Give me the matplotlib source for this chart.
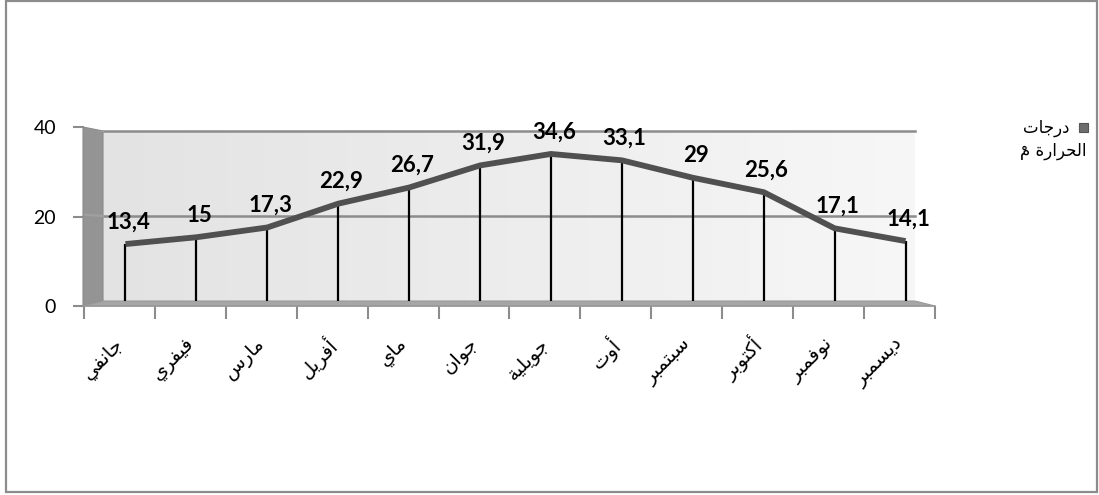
import numpy as np
import matplotlib
matplotlib.use("Agg")
import matplotlib.pyplot as plt
import matplotlib.transforms as mtransforms
from matplotlib.patches import Rectangle, Polygon

# بيانات درجات الحرارة الشهرية
months = ["جانفي", "فيفري", "مارس", "أفريل", "ماي", "جوان",
          "جويلية", "أوت", "سبتمبر", "أكتوبر", "نوفمبر", "ديسمبر"]
temps = [13.4, 15, 17.3, 22.9, 26.7, 31.9, 34.6, 33.1, 29, 25.6, 17.1, 14.1]
y_ticks = [0, 20, 40]
series_name = "درجات الحرارة مْ"

# matplotlib لا يقوم بوصل الحروف العربية، لذلك نستعمل أشكال العرض
# (isolated, final, initial, medial)
FORMS = {
    "\u0627": ("\uFE8D", "\uFE8E", None, None),
    "\u0623": ("\uFE83", "\uFE84", None, None),
    "\u0628": ("\uFE8F", "\uFE90", "\uFE91", "\uFE92"),
    "\u0629": ("\uFE93", "\uFE94", None, None),
    "\u062A": ("\uFE95", "\uFE96", "\uFE97", "\uFE98"),
    "\u062C": ("\uFE9D", "\uFE9E", "\uFE9F", "\uFEA0"),
    "\u062D": ("\uFEA1", "\uFEA2", "\uFEA3", "\uFEA4"),
    "\u062F": ("\uFEA9", "\uFEAA", None, None),
    "\u0631": ("\uFEAD", "\uFEAE", None, None),
    "\u0633": ("\uFEB1", "\uFEB2", "\uFEB3", "\uFEB4"),
    "\u0641": ("\uFED1", "\uFED2", "\uFED3", "\uFED4"),
    "\u0643": ("\uFED9", "\uFEDA", "\uFEDB", "\uFEDC"),
    "\u0644": ("\uFEDD", "\uFEDE", "\uFEDF", "\uFEE0"),
    "\u0645": ("\uFEE1", "\uFEE2", "\uFEE3", "\uFEE4"),
    "\u0646": ("\uFEE5", "\uFEE6", "\uFEE7", "\uFEE8"),
    "\u0648": ("\uFEED", "\uFEEE", None, None),
    "\u064A": ("\uFEF1", "\uFEF2", "\uFEF3", "\uFEF4"),
}
# الحركات وأشكالها المنفصلة
MARKS = {"\u0652": "\uFE7E", "\u064E": "\uFE76", "\u064F": "\uFE78",
         "\u0650": "\uFE7A", "\u0651": "\uFE7C"}


def shape(text):
    """Return (visual string without marks, list of (visual index, mark))."""
    base = [c for c in text if c not in MARKS]
    marks = []
    n = 0
    for c in text:
        if c in MARKS:
            marks.append((n - 1, MARKS[c]))
        else:
            n += 1
    out = list(base)
    for i, c in enumerate(base):
        if c not in FORMS:
            continue
        iso, fin, ini, med = FORMS[c]
        prev_c = base[i - 1] if i > 0 else None
        next_c = base[i + 1] if i + 1 < len(base) else None
        join_prev = prev_c in FORMS and FORMS[prev_c][2] is not None
        join_next = next_c in FORMS and ini is not None
        if join_prev and join_next:
            out[i] = med
        elif join_prev:
            out[i] = fin
        elif join_next:
            out[i] = ini
        else:
            out[i] = iso
    vis = "".join(reversed(out))
    vis_marks = [(len(out) - 1 - i, m) for i, m in marks]
    return vis, vis_marks


def arabic_text(x, y, text, **kw):
    """Draw shaped arabic text (baseline at y) and put marks over their letters."""
    vis, marks = shape(text)
    t = fig.text(x, y, vis, va="baseline", **kw)
    if marks:
        fig.canvas.draw()
        r = fig.canvas.get_renderer()
        bb = t.get_window_extent(r)
        for idx, m in marks:
            pre = fig.text(0, 0, vis[:idx], **kw)
            upto = fig.text(0, 0, vis[:idx + 1], **kw)
            w0 = pre.get_window_extent(r).width if idx > 0 else 0
            w1 = upto.get_window_extent(r).width
            pre.remove()
            upto.remove()
            cx = bb.x0 + (w0 + w1) / 2
            fig.text(cx / W, y - 0.008, m, ha="center", va="baseline", **{
                k: v for k, v in kw.items() if k != "ha"})
    return t


plt.rcParams["font.family"] = ["Lato", "DejaVu Sans"]
arabic_font = ["DejaVu Sans"]

W, H = 1099, 495
fig = plt.figure(figsize=(W / 100, H / 100), dpi=100)


def fx(px):
    return px / W


def fy(py):
    return 1 - py / H


# الإطار الخارجي
fig.patches.append(Rectangle((fx(6), fy(492)), fx(1097) - fx(6), fy(1) - fy(492),
                             transform=fig.transFigure, fill=False,
                             edgecolor="#8c8c8c", linewidth=1.6))

left, right = 84, 935
# المحور الأمامي (تدريجات 0-20-40)
ax_f = fig.add_axes([fx(left), fy(306), fx(right) - fx(left), fy(127) - fy(306)])
# محور الجدار الخلفي حيث ترسم السلسلة
ax = fig.add_axes([fx(left), fy(301), fx(right) - fx(left), fy(131) - fy(301)])
ax.set_zorder(ax_f.get_zorder() + 1)
ax.patch.set_visible(False)

x = np.arange(len(months))
for a in (ax, ax_f):
    a.set_xlim(-0.5, len(months) - 0.5)
    a.set_ylim(0, 40)

# الجدار الخلفي والجدار الجانبي والأرضية
aw = ax_f.get_position().width * W
ah = ax_f.get_position().height * H


def ap(px, py):
    return ((px - left) / aw, (306 - py) / ah)


grad = np.linspace(0, 1, 256).reshape(1, -1)
ax_f.imshow(grad, cmap=matplotlib.colors.LinearSegmentedColormap.from_list(
    "wall", ["#e3e3e3", "#f7f7f7"]), aspect="auto",
    extent=[ap(103, 0)[0], ap(915, 0)[0], ap(0, 301)[1], ap(0, 131)[1]],
    transform=ax_f.transAxes, zorder=0)
ax_f.add_patch(Polygon([ap(83, 306), ap(103, 301), ap(103, 131), ap(83, 127)],
                       closed=True, transform=ax_f.transAxes, facecolor="#949494",
                       edgecolor="#8a8a8a", linewidth=0.8, clip_on=False, zorder=1))
ax_f.add_patch(Polygon([ap(83, 306), ap(935, 306), ap(915, 301), ap(103, 301)],
                       closed=True, transform=ax_f.transAxes, facecolor="#a6a6a6",
                       edgecolor="#9a9a9a", linewidth=0.8, clip_on=False, zorder=1))

# خطوط الشبكة على الجدار
for v in y_ticks[1:]:
    ax.plot([-0.5 + 19 / 70.9, 11.5 - 20 / 70.9], [v, v], color="#8c8c8c",
            linewidth=1.8, zorder=1, clip_on=False)
    yv = ax.transData.transform((0, v))[1]
    ax.plot([fx(75), fx(103)], [yv / H + 0.008 * (v / 40), yv / H],
            transform=fig.transFigure, color="#a0a0a0", linewidth=1.6, zorder=1)

# تدريجات المحور الأمامي
ax_f.set_yticks(y_ticks)
ax_f.set_yticklabels([str(v) for v in y_ticks], fontsize=14, color="#000000")
ax_f.tick_params(axis="y", length=8, width=1.5, color="#8c8c8c", pad=12)
ax_f.set_xticks(np.arange(-0.5, len(months), 1))
ax_f.set_xticklabels([])
ax_f.tick_params(axis="x", length=9, width=1.5, color="#8c8c8c", direction="out")
for s in ("top", "right"):
    ax_f.spines[s].set_visible(False)
ax_f.spines["left"].set_visible(False)
ax_f.spines["bottom"].set_color("#9a9a9a")
ax_f.spines["bottom"].set_linewidth(1.2)
ax_f.patch.set_visible(False)

# أسماء الأشهر مائلة
label_off = mtransforms.ScaledTranslation(1 / 100, -35 / 100, fig.dpi_scale_trans)
for i, m in enumerate(months):
    ax_f.text(i, 0, shape(m)[0], transform=mtransforms.blended_transform_factory(
        ax_f.transData, ax_f.transAxes) + label_off,
        rotation=45, rotation_mode="anchor", ha="right", va="center",
        fontsize=14, family=arabic_font)

ax.axis("off")

# السلسلة والخطوط العمودية
shift = mtransforms.ScaledTranslation(6 / 100, 0, fig.dpi_scale_trans)
ax.vlines(x, 0, temps, colors="#000000", linewidth=1.6,
          transform=ax.transData + shift, zorder=3, clip_on=False)
ax.plot(x, temps, color="#505050", linewidth=4.2, solid_capstyle="butt",
        solid_joinstyle="round", transform=ax.transData + shift, zorder=4)

for i, v in enumerate(temps):
    txt = f"{v:g}".replace(".", ",")
    ax.annotate(txt, (x[i], v), xytext=(2, 16), textcoords="offset points",
                xycoords=ax.transData + shift, ha="center", va="center",
                fontsize=16, fontweight="bold", zorder=5, annotation_clip=False)

# وسيلة الإيضاح
fig.patches.append(Rectangle((fx(1079), fy(132)), fx(9), fy(0) - fy(9),
                             transform=fig.transFigure, facecolor="#6e6e6e",
                             edgecolor="#555555", linewidth=0.8))
words = series_name.split(" ")
arabic_text(fx(1070), fy(133), words[0], ha="right", fontsize=12, family=arabic_font)
arabic_text(fx(1086), fy(156), " ".join(words[1:]), ha="right", fontsize=12,
            family=arabic_font)

fig.savefig("out.png", dpi=100)
